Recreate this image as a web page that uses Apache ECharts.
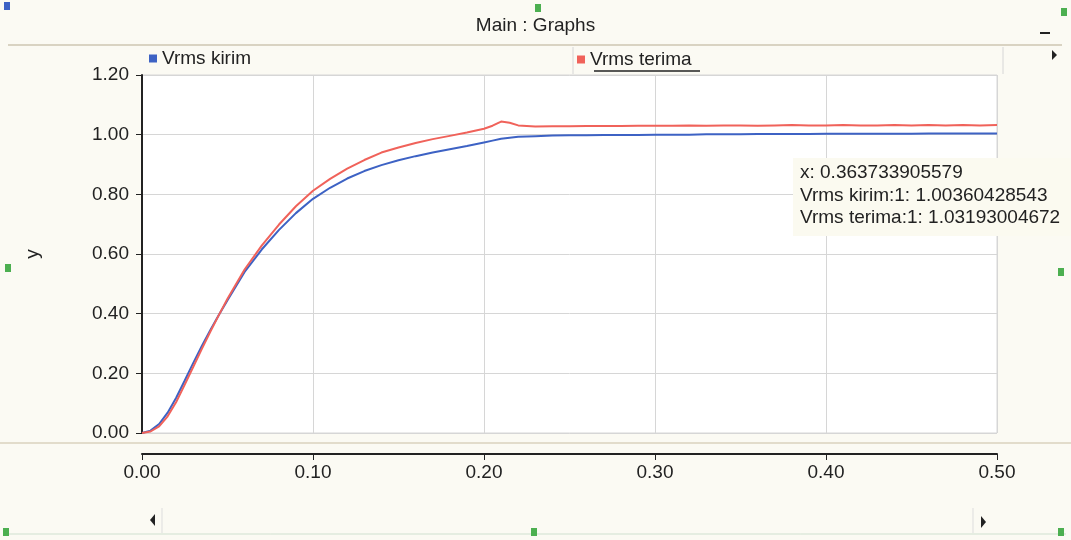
<!DOCTYPE html>
<html>
<head>
<meta charset="utf-8">
<script src="https://cdn.jsdelivr.net/npm/echarts@6/dist/echarts.min.js"></script>
<style>
  html, body { margin: 0; padding: 0; background: #fbfaf3; }
  #graphs { width: 1071px; height: 540px; }
</style>
</head>
<body>
<div id="graphs"></div>
<script>
// time (s) and the two rms voltages
var timeS = [0.00, 0.005, 0.01, 0.015, 0.02, 0.025, 0.03, 0.035, 0.04, 0.045, 0.05, 0.06, 0.07, 0.08, 0.09,
  0.10, 0.11, 0.12, 0.13, 0.14, 0.15, 0.16, 0.17, 0.18, 0.19,
  0.20, 0.205, 0.21, 0.215, 0.22, 0.23, 0.24, 0.25, 0.26, 0.27,
  0.28, 0.29, 0.30, 0.31, 0.32, 0.33, 0.34, 0.35, 0.36, 0.37,
  0.38, 0.39, 0.40, 0.41, 0.42, 0.43, 0.44, 0.45, 0.46, 0.47,
  0.48, 0.49, 0.50];
var vrmsKirim = [0.000, 0.008, 0.030, 0.068, 0.118, 0.176, 0.235, 0.292, 0.345, 0.396, 0.445, 0.540, 0.615, 0.680, 0.737,
  0.785, 0.822, 0.853, 0.878, 0.898, 0.914, 0.928, 0.940, 0.951, 0.962,
  0.974, 0.980, 0.986, 0.990, 0.993, 0.995, 0.997, 0.998, 0.998, 0.999,
  0.999, 0.999, 1.000, 1.000, 1.000, 1.001, 1.001, 1.001, 1.002, 1.002,
  1.002, 1.002, 1.003, 1.003, 1.003, 1.003, 1.003, 1.003, 1.004, 1.004,
  1.004, 1.004, 1.004];
var vrmsTerima = [0.000, 0.005, 0.022, 0.056, 0.104, 0.162, 0.222, 0.282, 0.340, 0.396, 0.450, 0.548, 0.628, 0.698, 0.760,
  0.812, 0.852, 0.886, 0.915, 0.940, 0.957, 0.972, 0.985, 0.996, 1.007,
  1.020, 1.030, 1.044, 1.040, 1.031, 1.027, 1.028, 1.028, 1.029, 1.029,
  1.029, 1.030, 1.030, 1.030, 1.031, 1.030, 1.031, 1.031, 1.030, 1.031,
  1.032, 1.031, 1.031, 1.032, 1.031, 1.031, 1.032, 1.031, 1.032, 1.031,
  1.032, 1.031, 1.032];
var cursorLines = ['x: 0.363733905579', 'Vrms kirim:1: 1.00360428543', 'Vrms terima:1: 1.03193004672'];

function pairs(ys) {
  return timeS.map(function (t, i) { return [t, ys[i]]; });
}

var FONT = '"Liberation Sans", Arial, sans-serif';
var myChart = echarts.init(document.getElementById('graphs'));

function handle(x, y, c) {
  return { type: 'rect', shape: { x: x, y: y, width: 6, height: 8 }, style: { fill: c || '#4caf50' } };
}

var option = {
  backgroundColor: '#fbfaf3',
  animation: false,
  textStyle: { fontFamily: FONT },
  legend: [
    { left: 149, top: 49, padding: 0, itemWidth: 8, itemHeight: 8, itemGap: 4, icon: 'rect',
      data: ['Vrms kirim'], textStyle: { fontSize: 19, color: '#222', fontFamily: FONT } },
    { left: 577, top: 50, padding: 0, itemWidth: 8, itemHeight: 8, itemGap: 4, icon: 'rect',
      data: ['Vrms terima'], textStyle: { fontSize: 19, color: '#222', fontFamily: FONT } }
  ],
  grid: {
    left: 142, right: 74, top: 75, bottom: 107,
    show: true, backgroundColor: '#ffffff', borderColor: '#d6d6d6', borderWidth: 1
  },
  xAxis: {
    type: 'value', min: 0, max: 0.5, interval: 0.1, offset: 21,
    axisLine: { show: true, onZero: false, lineStyle: { color: '#222', width: 2 } },
    axisTick: { show: true, length: 6, lineStyle: { color: '#222' } },
    axisLabel: { fontSize: 19, color: '#222', margin: 9, fontFamily: FONT,
      formatter: function (v) { return v.toFixed(2); } },
    splitLine: { show: true, lineStyle: { color: '#d6d6d6' } }
  },
  yAxis: {
    type: 'value', min: 0, max: 1.2, interval: 0.2,
    name: 'y', nameLocation: 'middle', nameGap: 100,
    nameTextStyle: { fontSize: 19, color: '#222', fontFamily: FONT },
    axisLine: { show: true, onZero: false, lineStyle: { color: '#222', width: 2 } },
    axisTick: { show: true, length: 6, lineStyle: { color: '#222' } },
    axisLabel: { fontSize: 19, color: '#222', margin: 13, fontFamily: FONT,
      formatter: function (v) { return v.toFixed(2); } },
    splitLine: { show: true, lineStyle: { color: '#d6d6d6' } }
  },
  series: [
    { name: 'Vrms kirim', type: 'line', showSymbol: false, data: pairs(vrmsKirim),
      itemStyle: { color: '#3d62c4' }, lineStyle: { color: '#3d62c4', width: 2 } },
    { name: 'Vrms terima', type: 'line', showSymbol: false, data: pairs(vrmsTerima),
      itemStyle: { color: '#f0625a' }, lineStyle: { color: '#f0625a', width: 2 } }
  ],
  graphic: [
    // window title bar
    { type: 'text', left: 'center', top: 16,
      style: { text: 'Main : Graphs', font: '19px ' + FONT, fill: '#222' } },
    { type: 'line', shape: { x1: 8, y1: 45, x2: 1062, y2: 45 }, style: { stroke: '#d9d3c2', lineWidth: 2 } },
    { type: 'line', shape: { x1: 1040, y1: 33, x2: 1050, y2: 33 }, style: { stroke: '#222', lineWidth: 2 } },
    // legend row separators
    { type: 'line', shape: { x1: 573, y1: 47, x2: 573, y2: 74 }, style: { stroke: '#d6d6d6', lineWidth: 1 } },
    { type: 'line', shape: { x1: 1003, y1: 47, x2: 1003, y2: 74 }, style: { stroke: '#d6d6d6', lineWidth: 1 } },
    { type: 'line', shape: { x1: 594, y1: 71, x2: 700, y2: 71 }, style: { stroke: '#222', lineWidth: 1.5 } },
    { type: 'polygon', shape: { points: [[1052, 50], [1057, 55], [1052, 60]] }, style: { fill: '#222' } },
    // separator under plot
    { type: 'line', shape: { x1: 0, y1: 443, x2: 1071, y2: 443 }, style: { stroke: '#e2dccb', lineWidth: 2 } },
    // scroll bar
    { type: 'line', shape: { x1: 162, y1: 508, x2: 162, y2: 533 }, style: { stroke: '#ddd', lineWidth: 1 } },
    { type: 'line', shape: { x1: 973, y1: 508, x2: 973, y2: 533 }, style: { stroke: '#ddd', lineWidth: 1 } },
    { type: 'polygon', shape: { points: [[155, 514], [150, 520], [155, 526]] }, style: { fill: '#222' } },
    { type: 'polygon', shape: { points: [[981, 516], [986, 522], [981, 528]] }, style: { fill: '#222' } },
    { type: 'line', shape: { x1: 5, y1: 534, x2: 1066, y2: 534 }, style: { stroke: '#cfe0cf', lineWidth: 1 } },
    // cursor readout box
    { type: 'rect', z: 100, shape: { x: 793, y: 158, width: 280, height: 78 }, style: { fill: '#fbfaf0' } },
    { type: 'text', z: 101, left: 800, top: 162,
      style: { text: cursorLines.join('\n'), font: '19px ' + FONT, fill: '#222', lineHeight: 22.5 } },
    // selection handles
    handle(4, 2, '#3d62c4'), handle(535, 4), handle(1061, 8),
    handle(5, 264), handle(1058, 268),
    handle(3, 528), handle(531, 528), handle(1058, 528)
  ]
};

myChart.setOption(option);
</script>
</body>
</html>
